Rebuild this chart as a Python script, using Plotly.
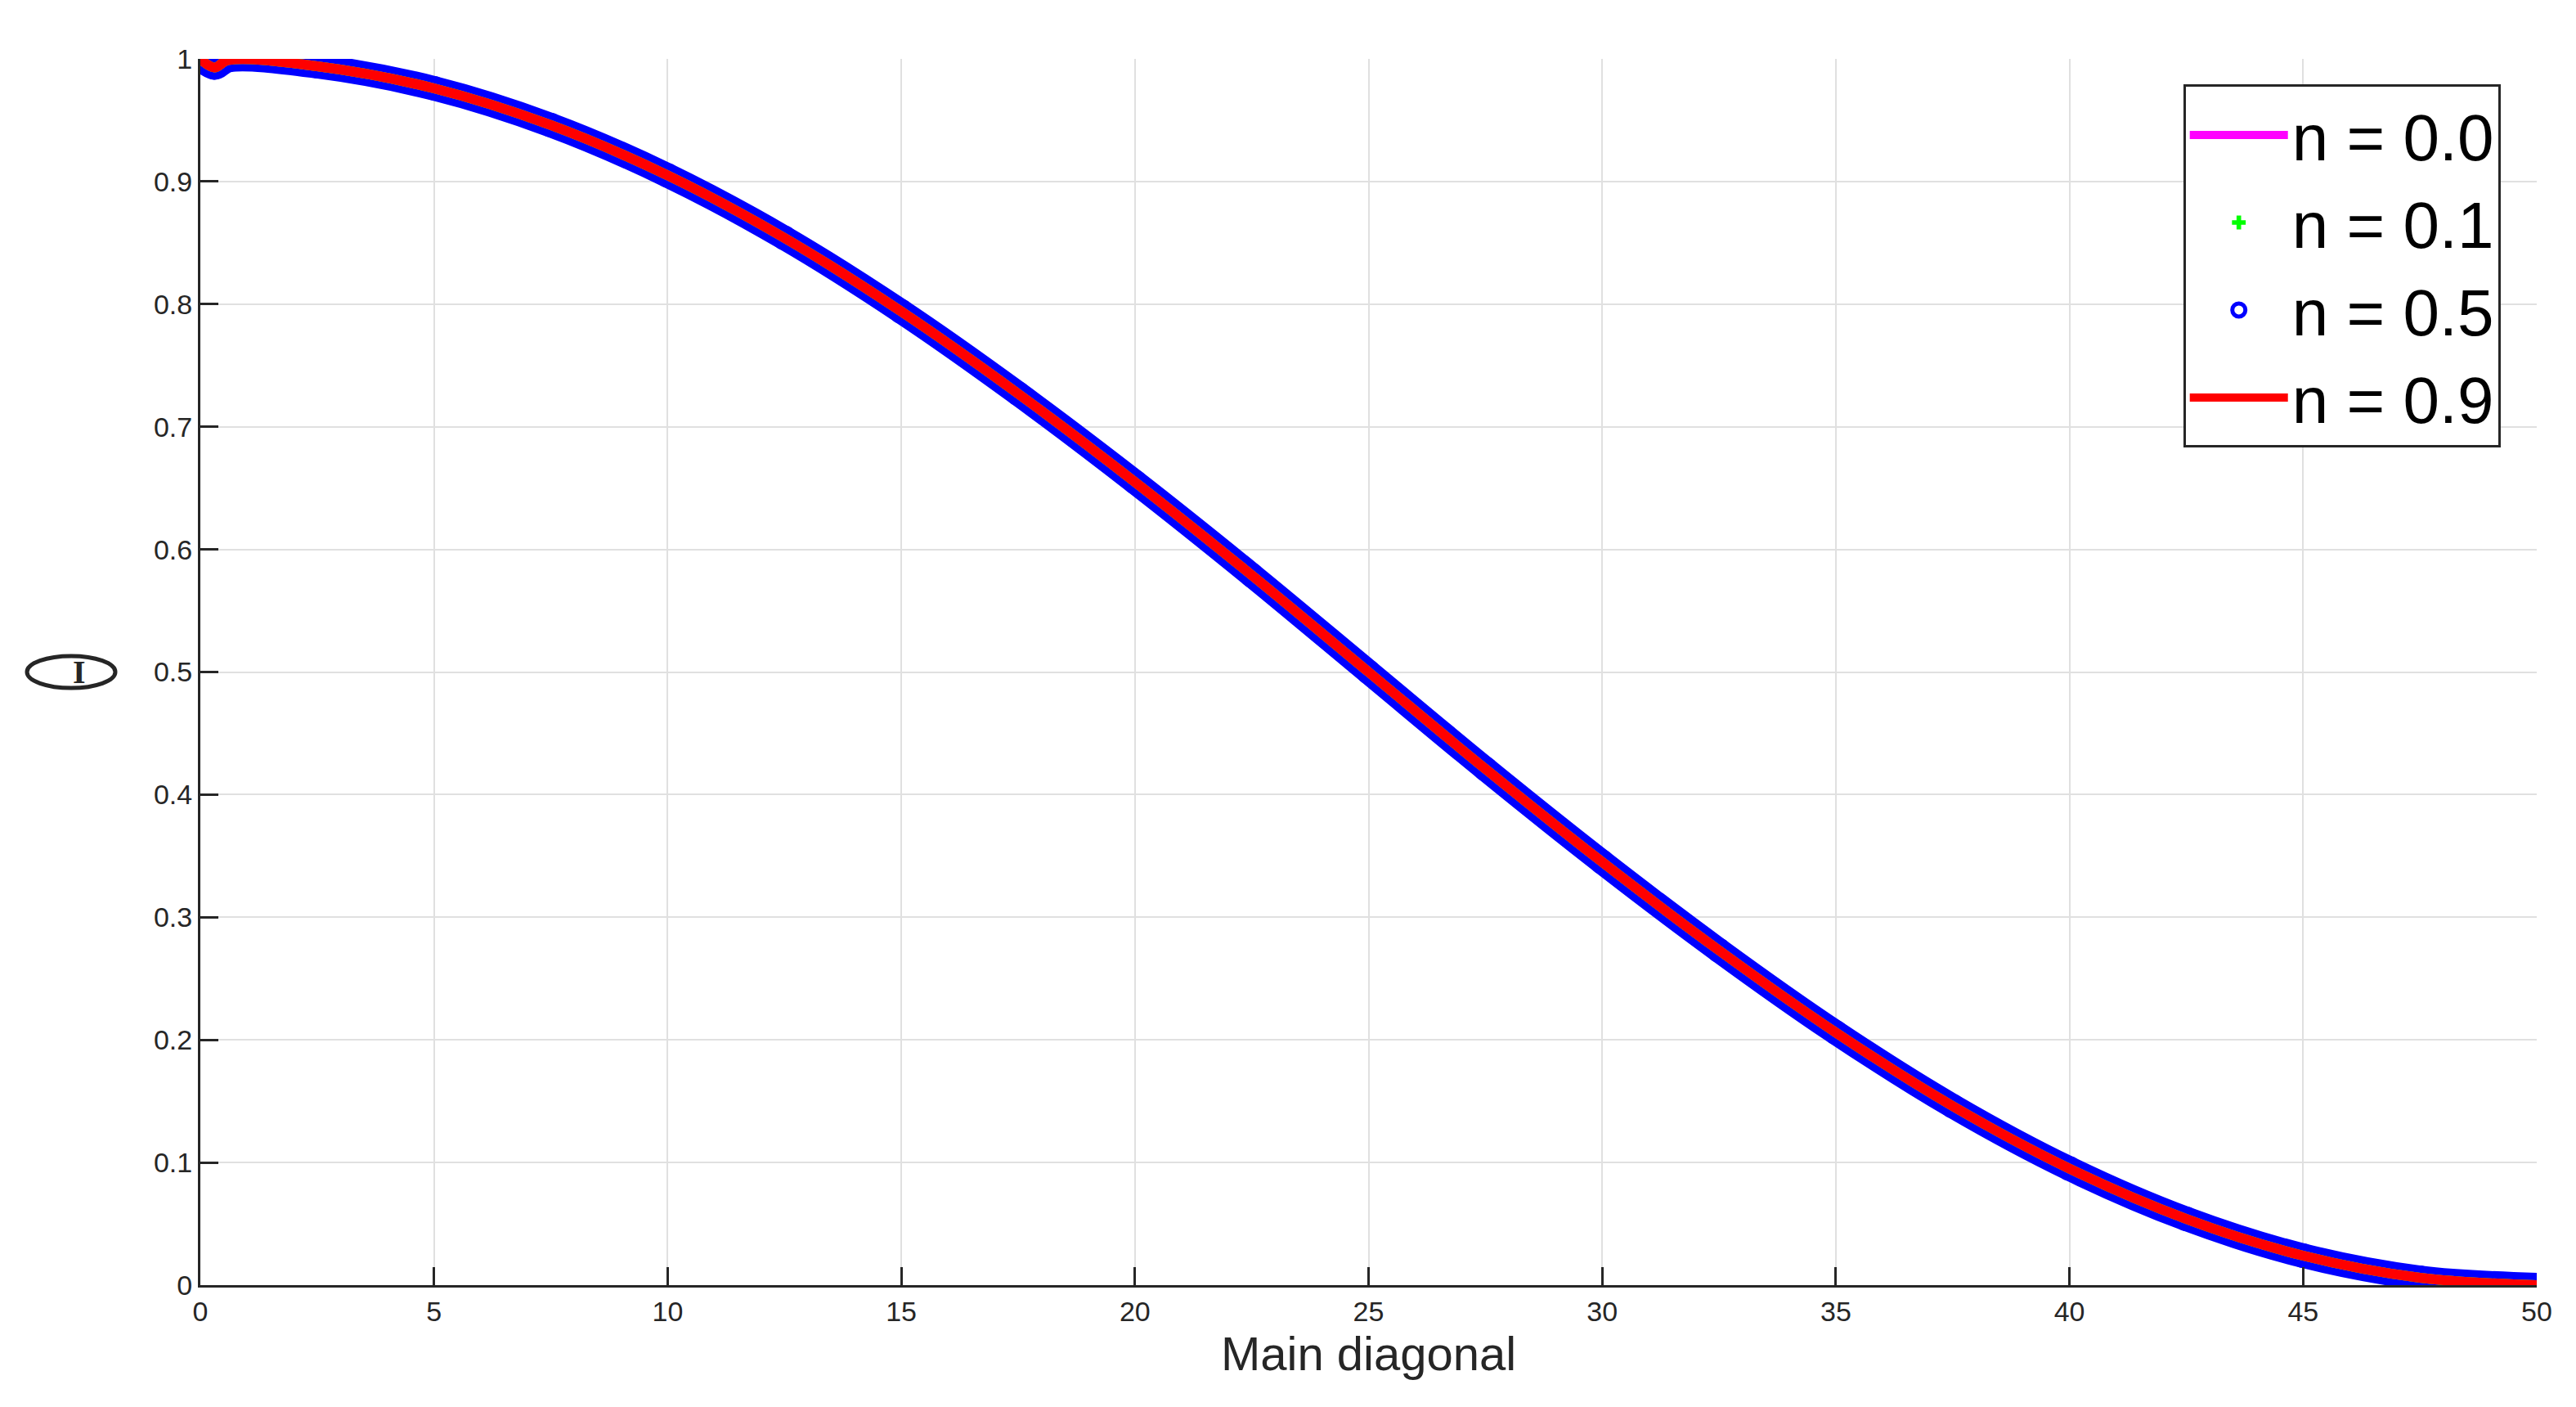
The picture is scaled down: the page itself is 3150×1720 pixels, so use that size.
import plotly.graph_objects as go

# values
diag = [0, 0.3, 0.6, 2.5, 5, 7.5, 10, 12.5, 15, 17.5, 20, 22.5, 25,
        27.5, 30, 32.5, 35, 37.5, 40, 42.5, 45, 47.5, 50]
inten = [1.0, 0.993, 0.999, 0.994, 0.976, 0.946, 0.905, 0.854, 0.794, 0.727,
         0.655, 0.579, 0.50, 0.421, 0.345, 0.273, 0.206, 0.146, 0.095,
         0.054, 0.024, 0.006, 0.0]
names = ['n = 0.0', 'n = 0.1', 'n = 0.5', 'n = 0.9']

fig = go.Figure()
# n = 0.5 : thick blue circles, drawn as a band
fig.add_trace(go.Scatter(x=diag, y=inten, mode='lines+markers', showlegend=False,
                         line=dict(color='#0000ff', width=30, shape='spline'),
                         marker=dict(color='#0000ff', size=30)))
fig.add_trace(go.Scatter(x=diag, y=inten, mode='lines', showlegend=False,
                         line=dict(color='#ff00ff', width=12, shape='spline')))
fig.add_trace(go.Scatter(x=diag, y=inten, mode='lines', showlegend=False,
                         line=dict(color='#00ff00', width=12, shape='spline')))
fig.add_trace(go.Scatter(x=diag, y=inten, mode='lines', showlegend=False,
                         line=dict(color='#ff0000', width=12, shape='spline')))

# legend entries
fig.add_trace(go.Scatter(x=[None], y=[None], mode='lines', name=names[0],
                         line=dict(color='#ff00ff', width=12)))
fig.add_trace(go.Scatter(x=[None], y=[None], mode='markers', name=names[1],
                         marker=dict(color='#00ff00', symbol='cross', size=14)))
fig.add_trace(go.Scatter(x=[None], y=[None], mode='markers', name=names[2],
                         marker=dict(color='white', symbol='circle', size=30,
                                     line=dict(color='#0000ff', width=10))))
fig.add_trace(go.Scatter(x=[None], y=[None], mode='lines', name=names[3],
                         line=dict(color='#ff0000', width=12)))

axis_common = dict(showgrid=True, gridcolor='#e0e0e0', gridwidth=2,
                   ticks='inside', ticklen=22, tickwidth=3, tickcolor='#262626',
                   showline=True, linecolor='#262626', linewidth=3, zeroline=False,
                   tickfont=dict(family='Liberation Sans', size=34, color='#262626'))

fig.update_xaxes(range=[0, 50], dtick=5, **axis_common,
                 title=dict(text='Main diagonal', standoff=10,
                            font=dict(family='Liberation Sans', size=58, color='#262626')))
fig.update_yaxes(range=[0, 1], dtick=0.1, **axis_common,
                 tickvals=[i / 10 for i in range(11)],
                 ticktext=['0', '0.1', '0.2', '0.3', '0.4', '0.5', '0.6', '0.7', '0.8', '0.9', '1'])

# circled I as y label
fig.add_annotation(xref='paper', yref='paper', x=-0.0553, y=0.5, showarrow=False,
                   text='<b>I</b>', font=dict(family='Liberation Serif', size=40, color='#262626'))
fig.add_shape(type='circle', xref='paper', yref='paper',
              x0=-0.0742, x1=-0.0364, y0=0.487, y1=0.513,
              line=dict(color='#262626', width=5))

fig.update_layout(
    width=3150, height=1720,
    margin=dict(l=237, r=56, t=64, b=157),
    plot_bgcolor='white', paper_bgcolor='white',
    legend=dict(x=0.9845, y=0.979, xanchor='right', yanchor='top',
                bordercolor='#262626', borderwidth=3, bgcolor='white',
                font=dict(family='Liberation Sans', size=80, color='black'),
                itemwidth=120, tracegroupgap=0),
)

fig.write_html("out.html")
